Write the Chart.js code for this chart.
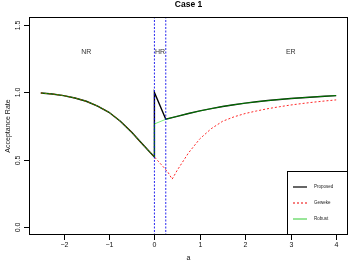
<!DOCTYPE html>
<html>
<head>
<meta charset="utf-8">
<script src="https://cdn.jsdelivr.net/npm/chart.js@4/dist/chart.umd.min.js"></script>
<style>
html,body{margin:0;padding:0;background:#fff;}
#wrap{width:354px;height:266px;}
</style>
</head>
<body>
<div id="wrap"><canvas id="c" width="354" height="266"></canvas></div>
<script>
// ---- data ----
const chartTitle = "Case 1";
const xTitle = "a";
const yTitle = "Acceptance Rate";
const seriesNames = ["Proposed", "Geweke", "Robust"];

const xTicks = [-2, -1, 0, 1, 2, 3, 4];
const xTickLabels = ["\u22122", "\u22121", "0", "1", "2", "3", "4"];
const yTicks = [0, 0.5, 1.0, 1.5];
const yTickLabels = ["0.0", "0.5", "1.0", "1.5"];

const regionLabels = ["NR", "HR", "ER"];
const regionX = [-1.5, 0.125, 3];
const regionY = [1.3, 1.3, 1.3];
const boundaries = [0, 0.25];

// shared curve in NR region
const aNR = [-2.5, -2.25, -2, -1.75, -1.5, -1.25, -1, -0.75, -0.5, -0.25, 0];
const rateNR = [0.995, 0.988, 0.976, 0.958, 0.934, 0.898, 0.852, 0.786, 0.703, 0.610, 0.52];

// HR region
const aHR = [0, 0.25];
const proposedHR = [1.0, 0.80];
const robustHR = [0.765, 0.80];

// ER region (Proposed and Robust coincide)
const aER = [0.5, 0.75, 1, 1.25, 1.5, 1.75, 2, 2.25, 2.5, 2.75, 3, 3.25, 3.5, 3.75, 4];
const rateER = [0.822, 0.843, 0.862, 0.879, 0.895, 0.908, 0.92, 0.93, 0.939, 0.947, 0.954, 0.96, 0.966, 0.971, 0.976];

// Geweke beyond a = 0
const aGW = [0.1, 0.2, 0.3, 0.39, 0.5, 0.75, 1, 1.25, 1.5, 1.75, 2, 2.25, 2.5, 2.75, 3, 3.25, 3.5, 3.75, 4];
const gewekeGW = [0.482, 0.445, 0.405, 0.355, 0.42, 0.55, 0.655, 0.73, 0.785, 0.818, 0.843, 0.862, 0.879, 0.893, 0.906, 0.917, 0.927, 0.936, 0.944];

// ---- build point lists ----
const pts = (xs, ys) => xs.map((x, i) => ({x: x, y: ys[i]}));
const proposedPts = [...pts(aNR, rateNR), ...pts(aHR, proposedHR), ...pts(aER, rateER)];
const robustPts = [...pts(aNR, rateNR), ...pts(aHR, robustHR), ...pts(aER, rateER)];
const gewekePts = [...pts(aNR, rateNR), ...pts(aGW, gewekeGW)];

const FONT = '"Liberation Sans", Arial, Helvetica, sans-serif';
const colors = ["#000000", "rgba(255,0,0,0.85)", "rgba(0,220,0,0.55)"];
const legendColors = ["#000000", "#ee0000", "#33cc33"];
const widths = [1.4, 1, 1];
const dashes = [[], [2, 2], []];

const vlineSets = boundaries.map((b, i) => ({
  label: "b" + i,
  data: [{x: b, y: -1}, {x: b, y: 2}],
  borderColor: "rgba(0,0,235,0.85)",
  borderWidth: 1,
  borderDash: [2, 1.5],
  pointRadius: 0,
  order: 0
}));

const overlay = {
  id: "rstyle",
  afterDraw(chart) {
    const ctx = chart.ctx;
    const ca = chart.chartArea;
    const xs = chart.scales.x, ys = chart.scales.y;
    ctx.save();
    // box
    ctx.strokeStyle = "#000";
    ctx.lineWidth = 1;
    ctx.strokeRect(Math.round(ca.left) + 0.5, Math.round(ca.top) + 0.5,
      Math.round(ca.right - ca.left) - 1, Math.round(ca.bottom - ca.top) - 1);
    // x ticks
    ctx.fillStyle = "#111";
    ctx.font = "7px " + FONT;
    ctx.textAlign = "center";
    ctx.textBaseline = "middle";
    xTicks.forEach((v, i) => {
      const px = Math.round(xs.getPixelForValue(v)) + 0.5;
      ctx.beginPath();
      ctx.moveTo(px, ca.bottom);
      ctx.lineTo(px, ca.bottom + 5);
      ctx.stroke();
      ctx.fillText(xTickLabels[i], px, ca.bottom + 10);
    });
    // y ticks (rotated labels)
    yTicks.forEach((v, i) => {
      const py = Math.round(ys.getPixelForValue(v)) + 0.5;
      ctx.beginPath();
      ctx.moveTo(ca.left, py);
      ctx.lineTo(ca.left - 5, py);
      ctx.stroke();
      ctx.save();
      ctx.translate(ca.left - 11, py);
      ctx.rotate(-Math.PI / 2);
      ctx.fillText(yTickLabels[i], 0, 0);
      ctx.restore();
    });
    // axis titles
    ctx.fillText(xTitle, (ca.left + ca.right) / 2, ca.bottom + 23);
    ctx.save();
    ctx.translate(8, (ca.top + ca.bottom) / 2);
    ctx.rotate(-Math.PI / 2);
    ctx.fillText(yTitle, 0, 0);
    ctx.restore();
    // title
    ctx.font = "bold 8.5px " + FONT;
    ctx.fillStyle = "#000";
    ctx.fillText(chartTitle, (ca.left + ca.right) / 2, 5);
    // region labels
    ctx.font = "7px " + FONT;
    ctx.fillStyle = "#333";
    regionLabels.forEach((t, i) => {
      ctx.fillText(t, xs.getPixelForValue(regionX[i]), ys.getPixelForValue(regionY[i]));
    });
    // legend
    const lx = 287, ly = 171;
    ctx.fillStyle = "#fff";
    ctx.fillRect(lx, ly, ca.right - lx, ca.bottom - ly);
    ctx.strokeStyle = "#000";
    ctx.lineWidth = 1;
    ctx.strokeRect(lx + 0.5, ly + 0.5, ca.right - lx - 1, ca.bottom - ly - 1);
    ctx.font = "4.5px " + FONT;
    ctx.textAlign = "left";
    seriesNames.forEach((n, i) => {
      const yy = ly + 16 + i * 16;
      ctx.strokeStyle = legendColors[i];
      ctx.lineWidth = i === 0 ? 1.2 : 1;
      ctx.setLineDash(dashes[i]);
      ctx.beginPath();
      ctx.moveTo(293, yy);
      ctx.lineTo(307, yy);
      ctx.stroke();
      ctx.setLineDash([]);
      ctx.fillStyle = "#222";
      ctx.fillText(n, 314, yy);
    });
    ctx.restore();
  }
};

new Chart(document.getElementById("c"), {
  type: "line",
  data: {
    datasets: [
      {label: seriesNames[0], data: proposedPts, borderColor: colors[0], borderWidth: widths[0], pointRadius: 0, tension: 0, order: 3},
      {label: seriesNames[1], data: gewekePts, borderColor: colors[1], borderWidth: widths[1], borderDash: dashes[1], pointRadius: 0, tension: 0, order: 2},
      {label: seriesNames[2], data: robustPts, borderColor: colors[2], borderWidth: widths[2], pointRadius: 0, tension: 0, order: 1},
      ...vlineSets
    ]
  },
  options: {
    responsive: false,
    animation: false,
    events: [],
    layout: {padding: {left: 29, top: 17, right: 6, bottom: 31}},
    plugins: {legend: {display: false}, title: {display: false}, tooltip: {enabled: false}},
    scales: {
      x: {type: "linear", min: -2.76, max: 4.26, display: false},
      y: {type: "linear", min: -0.06, max: 1.56, display: false}
    }
  },
  plugins: [overlay]
});
</script>
</body>
</html>
